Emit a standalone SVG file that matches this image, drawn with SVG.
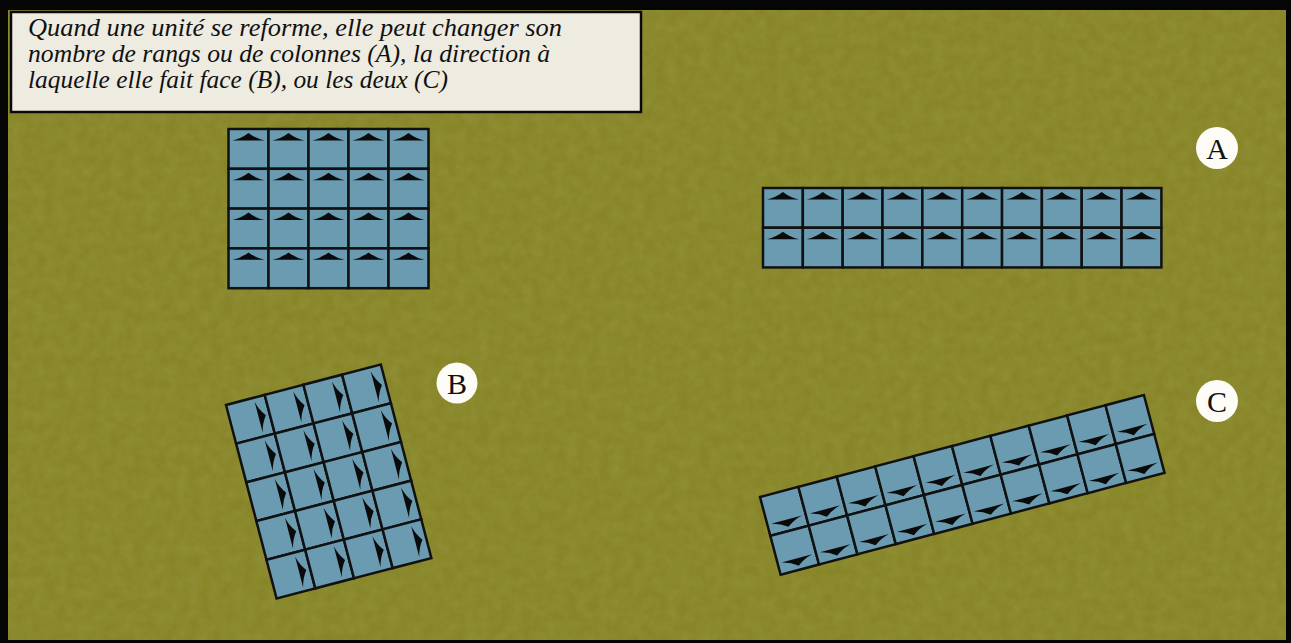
<svg xmlns="http://www.w3.org/2000/svg" xmlns:xlink="http://www.w3.org/1999/xlink" width="1291" height="643" viewBox="0 0 1291 643">
<style>
.cell{fill:#6a9bb0;stroke:#111;stroke-width:2.5}
.tri{fill:#0a0a0a}
.note{font-family:"Liberation Serif","Times New Roman",serif;font-style:italic;font-size:25px;fill:#111}
.lbl{font-family:"Liberation Serif","Times New Roman",serif;font-size:30px;fill:#111;text-anchor:middle}
.badge{fill:#fdfcf6}
</style>
<defs>
<filter id="grain" x="0" y="0" width="100%" height="100%">
<feTurbulence type="fractalNoise" baseFrequency="0.09" numOctaves="3" seed="4" result="n"/>
<feColorMatrix in="n" type="matrix" values="0 0 0 0 1  0 0 0 0 1  0 0 0 0 0.8  0 0 0 0.12 -0.03"/>
</filter>
<g id="c">
<rect class="cell" x="0" y="0" width="40" height="40"/>
<path class="tri" d="M4,11.5 Q13,9.5 20,4 Q27,9.5 36,11.5 Z"/>
</g>
<g id="cR"><use xlink:href="#c" transform="rotate(90 20 20)"/></g>
<g id="cD"><use xlink:href="#c" transform="rotate(180 20 20)"/></g>
</defs>

<rect x="0" y="0" width="1291" height="643" fill="#050505"/>
<rect x="8" y="10" width="1278" height="630" fill="#878527"/>
<rect x="8" y="10" width="1278" height="630" filter="url(#grain)"/>

<g id="note">
<rect x="11" y="12" width="630" height="100" fill="#eeebe1" stroke="#0a0a0a" stroke-width="2.5"/>
<text class="note" x="28" y="36" textLength="534" lengthAdjust="spacingAndGlyphs">Quand une unité se reforme, elle peut changer son</text>
<text class="note" x="28" y="62" textLength="522" lengthAdjust="spacingAndGlyphs">nombre de rangs ou de colonnes (A), la direction à</text>
<text class="note" x="28" y="88" textLength="420" lengthAdjust="spacingAndGlyphs">laquelle elle fait face (B), ou les deux (C)</text>
</g>

<g id="formation-start" transform="translate(228.5,129) scale(1,0.995)">
<use xlink:href="#c" x="0" y="0"/><use xlink:href="#c" x="40" y="0"/><use xlink:href="#c" x="80" y="0"/><use xlink:href="#c" x="120" y="0"/><use xlink:href="#c" x="160" y="0"/>
<use xlink:href="#c" x="0" y="40"/><use xlink:href="#c" x="40" y="40"/><use xlink:href="#c" x="80" y="40"/><use xlink:href="#c" x="120" y="40"/><use xlink:href="#c" x="160" y="40"/>
<use xlink:href="#c" x="0" y="80"/><use xlink:href="#c" x="40" y="80"/><use xlink:href="#c" x="80" y="80"/><use xlink:href="#c" x="120" y="80"/><use xlink:href="#c" x="160" y="80"/>
<use xlink:href="#c" x="0" y="120"/><use xlink:href="#c" x="40" y="120"/><use xlink:href="#c" x="80" y="120"/><use xlink:href="#c" x="120" y="120"/><use xlink:href="#c" x="160" y="120"/>
</g>

<g id="formation-A" transform="translate(763,188) scale(0.996,0.993)">
<use xlink:href="#c" x="0" y="0"/><use xlink:href="#c" x="40" y="0"/><use xlink:href="#c" x="80" y="0"/><use xlink:href="#c" x="120" y="0"/><use xlink:href="#c" x="160" y="0"/><use xlink:href="#c" x="200" y="0"/><use xlink:href="#c" x="240" y="0"/><use xlink:href="#c" x="280" y="0"/><use xlink:href="#c" x="320" y="0"/><use xlink:href="#c" x="360" y="0"/>
<use xlink:href="#c" x="0" y="40"/><use xlink:href="#c" x="40" y="40"/><use xlink:href="#c" x="80" y="40"/><use xlink:href="#c" x="120" y="40"/><use xlink:href="#c" x="160" y="40"/><use xlink:href="#c" x="200" y="40"/><use xlink:href="#c" x="240" y="40"/><use xlink:href="#c" x="280" y="40"/><use xlink:href="#c" x="320" y="40"/><use xlink:href="#c" x="360" y="40"/>
</g>

<g id="formation-B" transform="translate(226,405) rotate(-14.65)">
<use xlink:href="#cR" x="0" y="0"/><use xlink:href="#cR" x="40" y="0"/><use xlink:href="#cR" x="80" y="0"/><use xlink:href="#cR" x="120" y="0"/>
<use xlink:href="#cR" x="0" y="40"/><use xlink:href="#cR" x="40" y="40"/><use xlink:href="#cR" x="80" y="40"/><use xlink:href="#cR" x="120" y="40"/>
<use xlink:href="#cR" x="0" y="80"/><use xlink:href="#cR" x="40" y="80"/><use xlink:href="#cR" x="80" y="80"/><use xlink:href="#cR" x="120" y="80"/>
<use xlink:href="#cR" x="0" y="120"/><use xlink:href="#cR" x="40" y="120"/><use xlink:href="#cR" x="80" y="120"/><use xlink:href="#cR" x="120" y="120"/>
<use xlink:href="#cR" x="0" y="160"/><use xlink:href="#cR" x="40" y="160"/><use xlink:href="#cR" x="80" y="160"/><use xlink:href="#cR" x="120" y="160"/>
</g>

<g id="formation-C" transform="translate(760,497) rotate(-14.87) scale(0.993,1.005)">
<use xlink:href="#cD" x="0" y="0"/><use xlink:href="#cD" x="40" y="0"/><use xlink:href="#cD" x="80" y="0"/><use xlink:href="#cD" x="120" y="0"/><use xlink:href="#cD" x="160" y="0"/><use xlink:href="#cD" x="200" y="0"/><use xlink:href="#cD" x="240" y="0"/><use xlink:href="#cD" x="280" y="0"/><use xlink:href="#cD" x="320" y="0"/><use xlink:href="#cD" x="360" y="0"/>
<use xlink:href="#cD" x="0" y="40"/><use xlink:href="#cD" x="40" y="40"/><use xlink:href="#cD" x="80" y="40"/><use xlink:href="#cD" x="120" y="40"/><use xlink:href="#cD" x="160" y="40"/><use xlink:href="#cD" x="200" y="40"/><use xlink:href="#cD" x="240" y="40"/><use xlink:href="#cD" x="280" y="40"/><use xlink:href="#cD" x="320" y="40"/><use xlink:href="#cD" x="360" y="40"/>
</g>

<g id="label-A"><circle class="badge" cx="1217" cy="148" r="21"/><text class="lbl" x="1217" y="159">A</text></g>
<g id="label-B"><circle class="badge" cx="457" cy="383" r="20.5"/><text class="lbl" x="457" y="394">B</text></g>
<g id="label-C"><circle class="badge" cx="1217" cy="401" r="21"/><text class="lbl" x="1217" y="412">C</text></g>

<g id="connectors"/>
</svg>
